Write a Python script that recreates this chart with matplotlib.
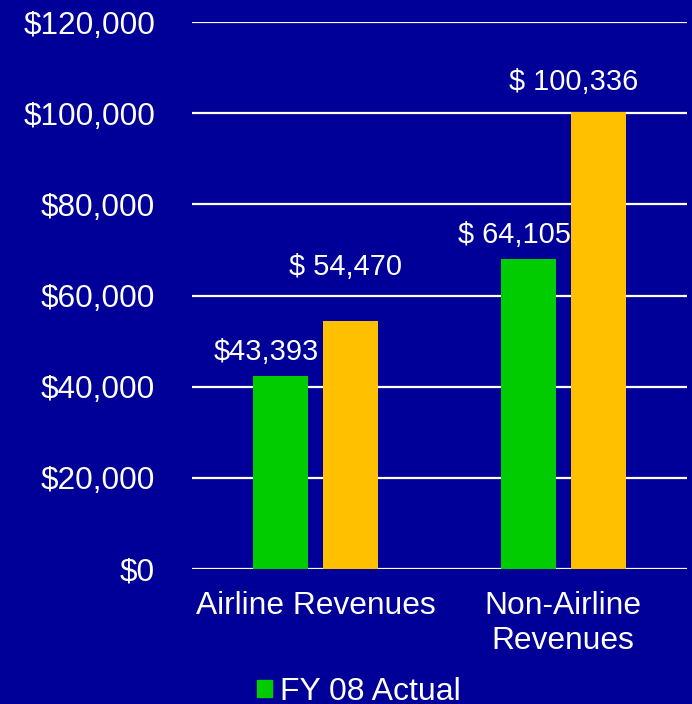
import matplotlib
matplotlib.use("Agg")
import matplotlib.pyplot as plt
from matplotlib.patches import Patch
from matplotlib.ticker import FuncFormatter
import numpy as np

# ---- data ----
categories = ["Airline Revenues", "Non-Airline\nRevenues"]
fy08_actual = [42300, 68000]
fy09_series = [54400, 100300]
fy08_labels = ["$43,393", "$ 64,105"]
fy09_labels = ["$ 54,470", "$ 100,336"]
y_ticks = [0, 20000, 40000, 60000, 80000, 100000, 120000]

# ---- style ----
BG = "#000099"
GREEN = "#00CC00"
YELLOW = "#FFC000"
plt.rcParams['font.family'] = ['Liberation Sans', 'DejaVu Sans']

fig = plt.figure(figsize=(6.92, 7.04), dpi=100, facecolor=BG)
ax = fig.add_axes([192/692, 1 - 569/704, (687-192)/692, (569-22)/704])
ax.set_facecolor(BG)

x = np.arange(len(categories))
w = 0.222
off = 0.142
b1 = ax.bar(x - off, fy08_actual, w, color=GREEN, zorder=3)
b2 = ax.bar(x + off, fy09_series, w, color=YELLOW, zorder=3)

ax.set_xlim(-0.5, 1.5)
ax.set_ylim(0, 120000)
ax.set_yticks(y_ticks)
ax.yaxis.set_major_formatter(FuncFormatter(lambda v, p: f"${v:,.0f}"))
ax.grid(axis='y', color='white', linewidth=1.6, zorder=1)
for s in ax.spines.values():
    s.set_visible(False)
ax.tick_params(axis='y', length=0, pad=26.5, labelsize=22.7, labelcolor='white')
ax.tick_params(axis='x', length=0, pad=16, labelsize=22.9, labelcolor='white')
ax.set_xticks(x)
ax.set_xticklabels(categories, linespacing=1.22)

# data labels (offsets in pixels: dx of text centre, dy of baseline above bar top)
label_offsets_1 = [(-14, 16), (-14, 16)]
label_offsets_2 = [(-5.5, 46), (-24.5, 22)]
for bars, labels, offs in ((b1, fy08_labels, label_offsets_1), (b2, fy09_labels, label_offsets_2)):
    for bar, lab, (dx, dy) in zip(bars, labels, offs):
        ax.annotate(lab, (bar.get_x() + bar.get_width()/2, bar.get_height()),
                    xytext=(dx, dy), textcoords='offset pixels',
                    ha='center', va='baseline', color='white', fontsize=20.9)

fig.legend(handles=[Patch(color=GREEN, label="FY 08 Actual")],
           loc='center left', bbox_to_anchor=(257/692, 1 - 692/704),
           frameon=False, borderpad=0, borderaxespad=0,
           handlelength=0.47, handleheight=0.47, handletextpad=0.25,
           prop={'size': 23}, labelcolor='white')

fig.savefig("out.png", dpi=100, facecolor=BG)
